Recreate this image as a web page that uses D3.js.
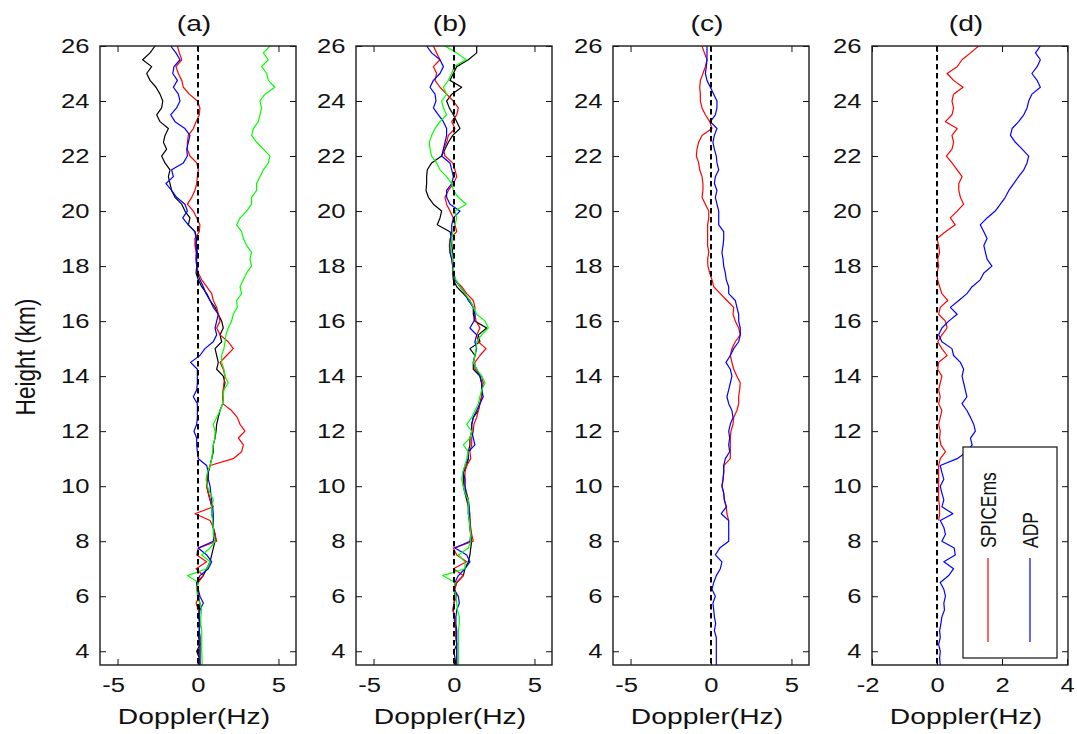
<!DOCTYPE html>
<html>
<head>
<meta charset="utf-8">
<script src="https://cdn.jsdelivr.net/npm/d3@7"></script>
<style>
  body { margin: 0; background: #fff; }
  svg { display: block; font-family: "Liberation Sans", Arial, sans-serif; }
</style>
</head>
<body>
<script>
// heights (km), top to bottom, shared by every profile
const heights = [26, 25.75, 25.5, 25.25, 25, 24.75, 24.5, 24.25, 24, 23.75,
  23.5, 23.25, 23, 22.75, 22.5, 22.25, 22, 21.75, 21.5, 21.25,
  21, 20.75, 20.5, 20.25, 20, 19.75, 19.5, 19.25, 19, 18.75,
  18.5, 18.25, 18, 17.75, 17.5, 17.25, 17, 16.75, 16.5, 16.25,
  16, 15.75, 15.5, 15.25, 15, 14.75, 14.5, 14.25, 14, 13.75,
  13.5, 13.25, 13, 12.75, 12.5, 12.25, 12, 11.75, 11.5, 11.25,
  11, 10.75, 10.5, 10.25, 10, 9.75, 9.5, 9.25, 9, 8.75,
  8.5, 8.25, 8, 7.75, 7.5, 7.25, 7, 6.75, 6.5, 6.25,
  6, 5.75, 5.5, 5.25, 5, 4.75, 4.5, 4.25, 4, 3.75, 3.5];

const panelTitles = ['(a)', '(b)', '(c)', '(d)'];
const yTicks = [4, 6, 8, 10, 12, 14, 16, 18, 20, 22, 24, 26];
const xTicksWide = [-5, 0, 5];
const xTicksNarrow = [-2, 0, 2, 4];
const legendNames = ['SPICEms', 'ADP'];

// Doppler (Hz) per height
const aBlack = [-2.67, -2.98, -3.44, -2.88, -3.19, -2.98, -2.61, -2.36, -2.19, -2.26,
  -2.57, -2.36, -1.84, -2.05, -2.15, -1.95, -2.26, -2.05, -1.74, -1.84,
  -1.74, -1.64, -1.43, -1.01, -0.81, -0.50, -0.60, -0.19, -0.08, -0.12,
  -0.04, -0.08, -0.08, -0.12, 0.02, 0.23, 0.54, 0.75, 1.06, 1.26,
  1.47, 1.57, 1.37, 1.47, 1.06, 1.16, 1.26, 1.16, 1.57, 1.68,
  1.57, 1.57, 1.53, 1.37, 1.26, 1.16, 1.12, 1.06, 0.95, 0.95,
  0.85, 0.75, 0.64, 0.58, 0.54, 0.64, 0.75, 0.85, 0.85, 0.95,
  0.95, 1.06, 1.06, 0.95, 0.85, 0.75, 0.54, 0.33, -0.08, -0.04,
  0.02, 0.12, 0.08, 0.02, 0.12, 0.08, 0.04, 0.12, -0.08, 0.08, 0.12];
const aBlue = [-1.70, -1.37, -1.12, -1.49, -1.57, -1.28, -1.53, -1.22, -1.12, -1.33,
  -1.70, -1.43, -0.81, -0.50, -0.60, -0.70, -0.66, -0.91, -1.64, -1.53,
  -1.99, -1.64, -1.33, -0.81, -0.66, -0.95, -0.60, -0.19, -0.12, -0.12,
  -0.08, -0.12, -0.08, -0.04, 0.12, 0.33, 0.50, 0.75, 0.95, 1.26,
  1.16, 1.06, 1.16, 0.95, 0.43, 0.12, -0.46, -0.04, -0.04, -0.04,
  -0.08, -0.29, -0.04, -0.04, -0.04, -0.08, -0.25, -0.08, -0.08, -0.04,
  0.02, 0.54, 0.64, 0.64, 0.75, 0.79, 0.85, 0.91, 0.95, 0.95,
  0.95, 0.99, 0.95, 0.02, 0.54, 0.85, 0.64, 0.12, -0.08, 0.02,
  0.12, 0.33, 0.12, 0.08, 0.12, 0.08, 0.12, 0.12, 0.12, 0.12, 0.12];
const aRed = [-1.28, -1.16, -1.01, -1.37, -1.22, -1.01, -0.91, -0.54, -0.04, 0.12,
  0.08, -0.12, -0.29, -0.60, -0.66, -0.66, -0.50, -0.08, 0.02, -0.04,
  -0.08, -0.19, -0.39, -0.66, -0.29, -0.08, 0.12, 0.08, -0.19, -0.19,
  -0.12, -0.12, -0.08, 0.02, 0.23, 0.54, 0.85, 0.95, 1.16, 1.26,
  1.37, 1.16, 1.37, 1.88, 2.19, 1.78, 1.37, 1.57, 1.68, 1.61,
  1.57, 1.53, 1.53, 2.09, 2.44, 2.61, 2.92, 2.51, 2.82, 2.71,
  2.19, 0.75, 0.64, 0.58, 0.54, 0.64, 0.75, 0.95, -0.19, 0.75,
  0.95, 1.06, 1.16, 0.02, -0.08, 0.54, -0.12, 0.33, 0.02, -0.08,
  0.08, -0.12, 0.02, 0.08, 0.08, 0.08, 0.12, 0.12, 0.12, 0.12, 0.12];
const aGreen = [4.47, 4.06, 4.37, 3.95, 4.27, 4.37, 4.78, 4.16, 3.85, 3.95,
  3.85, 3.75, 3.44, 3.33, 3.64, 4.06, 4.47, 4.37, 4.06, 3.85,
  3.64, 3.64, 3.33, 3.33, 3.02, 2.61, 2.40, 2.71, 2.82, 3.02,
  3.33, 3.23, 3.33, 3.02, 2.82, 2.61, 2.71, 2.40, 2.44, 2.19,
  2.09, 1.88, 1.74, 1.68, 1.61, 1.47, 1.47, 1.61, 1.68, 1.88,
  1.61, 1.57, 1.53, 1.37, 1.16, 0.95, 1.06, 1.06, 0.95, 0.91,
  0.85, 0.75, 0.58, 0.50, 0.58, 0.75, 0.95, 0.85, 0.85, 0.91,
  0.95, 0.95, 1.06, 0.75, 0.23, 0.75, 0.54, -0.66, 0.02, -0.08,
  -0.04, 0.12, 0.23, 0.17, 0.17, 0.23, 0.23, 0.23, 0.23, 0.25, 0.27];

const bBlack = [1.41, 1.41, 0.89, 0.17, -0.04, -0.25, 0.48, -0.14, -0.46, -0.29,
  -0.04, 0.17, 0.37, -0.08, -0.35, -0.56, -0.77, -1.39, -1.66, -1.70,
  -1.70, -1.74, -1.59, -1.28, -0.77, -0.87, -1.04, -0.25, -0.14, -0.14,
  -0.08, -0.08, -0.04, -0.08, -0.04, 0.17, 0.58, 0.99, 1.20, 1.20,
  1.30, 2.03, 1.51, 1.61, 0.99, 1.30, 1.20, 1.20, 1.61, 1.72,
  1.72, 1.72, 1.61, 1.51, 1.20, 1.10, 1.10, 0.99, 0.99, 0.89,
  0.89, 0.79, 0.58, 0.58, 0.58, 0.68, 0.79, 0.89, 0.89, 0.95,
  0.99, 1.04, 1.10, 1.04, 0.99, 0.89, 0.68, 0.58, 0.17, 0.00,
  0.06, 0.00, -0.04, 0.00, 0.06, 0.12, 0.12, 0.17, 0.00, 0.06, 0.12];
const bBlue = [-1.70, -1.39, -0.87, -0.66, -0.87, -1.28, -1.49, -1.18, -1.12, -1.28,
  -0.97, -0.66, -0.46, -0.46, -0.56, -0.66, -0.77, -0.25, -0.14, -0.04,
  -0.14, -0.46, -0.46, -0.25, 0.37, -0.04, -0.14, -0.14, -0.21, -0.25,
  -0.25, -0.14, -0.08, 0.00, 0.06, 0.37, 0.68, 0.89, 1.20, 1.30,
  1.24, 0.99, 1.41, 1.30, 1.41, 1.30, 1.20, 1.41, 1.61, 1.72,
  1.72, 1.82, 1.61, 1.41, 1.20, 1.10, 1.10, 1.20, 1.30, 0.89,
  0.89, 0.68, 0.58, 0.68, 0.68, 0.75, 0.89, 0.95, 0.95, 0.99,
  0.99, 1.04, 0.99, 0.06, 0.79, 0.99, 0.68, 0.27, 0.06, 0.00,
  0.27, 0.33, 0.17, 0.12, 0.12, 0.17, 0.17, 0.17, 0.17, 0.17, 0.17];
const bRed = [-1.28, -1.08, -0.87, -1.28, -1.08, -1.18, -0.87, -0.46, -0.04, 0.27,
  0.17, -0.14, 0.06, -0.35, -0.46, -0.66, -0.56, -0.08, 0.06, 0.17,
  -0.04, -0.35, -0.56, -0.46, -0.25, -0.04, 0.06, 0.17, -0.25, -0.29,
  -0.25, -0.14, -0.08, 0.00, 0.06, 0.48, 0.79, 1.20, 1.30, 1.30,
  1.37, 1.61, 1.41, 1.51, 1.99, 1.61, 1.30, 1.30, 1.72, 1.82,
  1.72, 1.72, 1.61, 1.51, 1.41, 1.24, 1.20, 1.10, 1.10, 0.99,
  1.04, 0.79, 0.68, 0.68, 0.68, 0.79, 0.89, 0.89, 0.99, 0.99,
  1.04, 1.10, 1.20, -0.04, 0.17, 0.79, -0.04, 0.58, 0.17, 0.06,
  0.17, 0.00, -0.08, 0.06, 0.06, 0.12, 0.12, 0.17, 0.17, 0.17, 0.17];
const bGreen = [-0.56, 0.17, 0.75, 0.00, -0.14, -0.35, -0.66, -0.46, -0.77, -0.66,
  -0.46, -0.87, -1.18, -1.39, -1.53, -1.49, -1.39, -1.08, -0.87, -0.46,
  -0.14, -0.04, 0.27, 0.75, 0.06, 0.17, 0.06, -0.08, -0.14, -0.21,
  -0.14, -0.08, -0.04, -0.04, 0.12, 0.37, 0.68, 0.99, 1.20, 1.41,
  1.93, 2.13, 1.72, 1.41, 1.37, 1.30, 1.20, 1.41, 1.72, 1.93,
  1.72, 1.61, 1.51, 1.30, 1.10, 0.79, 1.10, 0.99, 0.58, 0.89,
  0.79, 0.68, 0.54, 0.48, 0.58, 0.68, 0.89, 0.89, 0.89, 0.95,
  0.99, 1.04, 1.04, 0.89, 0.27, 0.68, 0.68, -0.70, 0.06, 0.00,
  0.12, 0.17, 0.21, 0.33, 0.33, 0.27, 0.27, 0.27, 0.27, 0.27, 0.27];

// (c) red only reaches down to 8.75 km
const cRed = [-0.56, -0.41, -0.25, -0.35, -0.50, -0.66, -0.70, -0.66, -0.66, -0.56,
  -0.35, -0.08, 0.06, -0.56, -0.77, -0.87, -0.91, -0.77, -0.70, -0.56,
  -0.50, -0.50, -0.56, -0.35, -0.14, -0.14, -0.21, -0.21, -0.21, -0.21,
  -0.14, -0.21, -0.19, -0.08, 0.06, 0.17, 0.58, 0.99, 1.41, 1.37,
  1.51, 1.72, 1.82, 1.51, 1.30, 1.20, 1.30, 1.41, 1.61, 1.82,
  1.78, 1.72, 1.72, 1.61, 1.41, 1.37, 1.24, 1.20, 1.20, 1.20,
  1.20, 0.79, 0.79, 0.75, 0.68, 0.79, 0.83, 0.95, 0.99, 1.10];
const cBlue = [-0.25, -0.25, -0.25, -0.29, -0.35, -0.25, -0.04, 0.17, 0.37, 0.37,
  0.27, -0.04, 0.37, 0.21, 0.12, 0.21, 0.33, 0.37, 0.48, 0.27,
  0.21, 0.37, 0.27, 0.37, 0.48, 0.48, 0.48, 0.79, 0.79, 0.75,
  0.68, 0.75, 0.79, 0.89, 0.95, 1.10, 1.10, 1.51, 1.61, 1.72,
  1.72, 1.82, 1.82, 1.72, 1.41, 1.20, 0.93, 1.20, 1.30, 1.20,
  1.10, 0.99, 1.10, 1.30, 1.37, 1.20, 1.10, 1.16, 1.10, 1.16,
  0.89, 0.79, 0.79, 0.75, 0.68, 0.79, 0.83, 0.95, 0.64, 1.10,
  1.10, 1.10, 1.10, 0.54, 0.27, 0.68, 0.58, 0.33, 0.17, 0.06,
  0.27, 0.12, 0.17, 0.21, 0.29, 0.21, 0.33, 0.33, 0.33, 0.33, 0.33];

// (d) SPICEms reaches down to 8.75 km
const dRed = [1.28, 1.03, 0.77, 0.62, 0.31, 0.51, 0.80, 0.51, 0.46, 0.51,
  0.46, 0.26, 0.62, 0.46, 0.51, 0.46, 0.29, 0.46, 0.62, 0.77,
  0.67, 0.67, 0.72, 0.82, 0.62, 0.41, 0.56, 0.26, 0.00, 0.05,
  0.08, 0.02, 0.05, 0.00, 0.02, 0.08, 0.15, 0.33, 0.10, 0.05,
  0.26, 0.31, 0.15, 0.02, 0.15, 0.31, 0.05, 0.02, 0.15, 0.10,
  0.05, 0.10, 0.05, 0.15, 0.10, 0.05, 0.10, 0.08, 0.12, 0.26,
  0.10, 0.05, 0.05, 0.05, 0.05, 0.05, 0.05, 0.08, 0.08, 0.05];
const dBlue = [3.18, 3.03, 3.18, 3.08, 2.92, 3.08, 3.18, 2.92, 2.82, 2.77,
  2.67, 2.51, 2.31, 2.26, 2.41, 2.62, 2.82, 2.77, 2.67, 2.51,
  2.36, 2.21, 2.10, 1.95, 1.79, 1.54, 1.33, 1.44, 1.54, 1.44,
  1.49, 1.54, 1.69, 1.44, 1.33, 1.08, 0.92, 0.67, 0.41, 0.62,
  0.36, 0.15, 0.05, 0.15, 0.46, 0.51, 0.72, 0.82, 0.77, 0.82,
  0.87, 0.92, 0.77, 0.92, 1.03, 1.13, 1.18, 1.03, 1.08, 0.92,
  0.62, 0.10, 0.15, 0.21, 0.10, 0.15, 0.21, 0.15, 0.49, 0.10,
  0.21, 0.26, 0.15, 0.53, 0.56, 0.21, 0.51, 0.36, 0.10, 0.21,
  0.26, 0.21, 0.23, 0.15, 0.12, 0.08, 0.10, 0.05, 0.10, 0.08, 0.10];

const width = 1077, height = 734;
const plotTop = 46, plotBottom = 665, plotWidth = 196;
const SX = 1.25; // the picture is stretched sideways, so is its text
const tickFont = 20.5, labelFont = 22.6, legendFont = 17.5;

const panels = [
  { title: panelTitles[0], left: 100, domain: [-6.09, 6.09], ticks: xTicksWide,
    series: [[aBlack, '#000000'], [aRed, '#ff0000'], [aBlue, '#0000ff'], [aGreen, '#00ff00']] },
  { title: panelTitles[1], left: 356, domain: [-6.09, 6.09], ticks: xTicksWide,
    series: [[bBlack, '#000000'], [bRed, '#ff0000'], [bBlue, '#0000ff'], [bGreen, '#00ff00']] },
  { title: panelTitles[2], left: 613, domain: [-6.09, 6.09], ticks: xTicksWide,
    series: [[cRed, '#ff0000'], [cBlue, '#0000ff']] },
  { title: panelTitles[3], left: 872, domain: [-2, 4.03], ticks: xTicksNarrow,
    series: [[dRed, '#ff0000'], [dBlue, '#0000ff']], legend: true }
];

const svg = d3.select('body').append('svg')
  .attr('width', width)
  .attr('height', height);

const y = d3.scaleLinear().domain([3.5, 26]).range([plotBottom, plotTop]);

function styleAxis(a) {
  a.select('.domain').remove();
  a.attr('font-family', null).attr('color', '#111');
  a.selectAll('line').attr('stroke-width', 1);
  a.selectAll('text').attr('font-size', tickFont).attr('fill', '#111')
    .attr('transform', `scale(${SX},1)`);
}

panels.forEach((p, pi) => {
  const x = d3.scaleLinear().domain(p.domain).range([p.left, p.left + plotWidth]);
  const g = svg.append('g');

  g.append('clipPath').attr('id', 'clip' + pi)
    .append('rect')
    .attr('x', p.left).attr('y', plotTop)
    .attr('width', plotWidth).attr('height', plotBottom - plotTop);

  const line = d3.line()
    .x(d => x(d[0]))
    .y(d => y(d[1]));

  const lines = g.append('g').attr('clip-path', `url(#clip${pi})`);
  p.series.forEach(([values, color]) => {
    lines.append('path')
      .datum(values.map((v, i) => [v, heights[i]]))
      .attr('d', line)
      .attr('fill', 'none')
      .attr('stroke', color)
      .attr('stroke-width', 1.2)
      .attr('stroke-linejoin', 'round');
  });

  // zero Doppler reference
  lines.append('line')
    .attr('x1', x(0)).attr('x2', x(0))
    .attr('y1', plotTop).attr('y2', plotBottom)
    .attr('stroke', '#000')
    .attr('stroke-width', 2)
    .attr('stroke-dasharray', '5.5,3.5');

  // ticks on all four sides, pointing inwards
  g.append('g')
    .attr('transform', `translate(0,${plotBottom})`)
    .call(d3.axisBottom(x).tickValues(p.ticks).tickSize(-6).tickSizeOuter(0)
      .tickPadding(12).tickFormat(d => String(d)))
    .call(styleAxis)
    .call(a => a.selectAll('text').attr('dx', d => d < 0 ? '-0.17em' : null));

  g.append('g')
    .attr('transform', `translate(0,${plotTop})`)
    .call(d3.axisTop(x).tickValues(p.ticks).tickSize(-6).tickSizeOuter(0).tickFormat(''))
    .call(styleAxis);

  g.append('g')
    .attr('transform', `translate(${p.left},0)`)
    .call(d3.axisLeft(y).tickValues(yTicks).tickSize(-6).tickSizeOuter(0)
      .tickPadding(8.4).tickFormat(d => String(d)))
    .call(styleAxis);

  g.append('g')
    .attr('transform', `translate(${p.left + plotWidth},0)`)
    .call(d3.axisRight(y).tickValues(yTicks).tickSize(-6).tickSizeOuter(0).tickFormat(''))
    .call(styleAxis);

  g.append('rect')
    .attr('x', p.left).attr('y', plotTop)
    .attr('width', plotWidth).attr('height', plotBottom - plotTop)
    .attr('fill', 'none')
    .attr('stroke', '#1a1a1a')
    .attr('stroke-width', 1.4);

  const cx = p.left + plotWidth / 2 - 4;

  g.append('text')
    .attr('transform', `translate(${cx},31) scale(${SX},1)`)
    .attr('text-anchor', 'middle')
    .attr('font-size', labelFont)
    .attr('fill', '#111')
    .text(p.title);

  g.append('text')
    .attr('transform', `translate(${cx},724) scale(${SX},1)`)
    .attr('text-anchor', 'middle')
    .attr('font-size', labelFont)
    .attr('fill', '#111')
    .text('Doppler(Hz)');

  if (p.legend) {
    const lg = g.append('g');
    lg.append('rect')
      .attr('x', 963).attr('y', 447)
      .attr('width', 94).attr('height', 211)
      .attr('fill', '#fff')
      .attr('stroke', '#111')
      .attr('stroke-width', 1.2);
    const entries = [[legendNames[0], '#ff0000', 988], [legendNames[1], '#0000ff', 1030]];
    entries.forEach(([name, color, lx]) => {
      lg.append('line')
        .attr('x1', lx).attr('x2', lx)
        .attr('y1', 558).attr('y2', 642)
        .attr('stroke', color)
        .attr('stroke-width', 1.2);
      lg.append('text')
        .attr('transform', `translate(${lx + 8},548) scale(${SX},1) rotate(-90)`)
        .attr('font-size', legendFont)
        .attr('fill', '#111')
        .text(name);
    });
  }
});

svg.append('text')
  .attr('transform', `translate(35,357) scale(${SX},1) rotate(-90)`)
  .attr('text-anchor', 'middle')
  .attr('font-size', labelFont)
  .attr('fill', '#111')
  .text('Height (km)');
</script>
</body>
</html>
